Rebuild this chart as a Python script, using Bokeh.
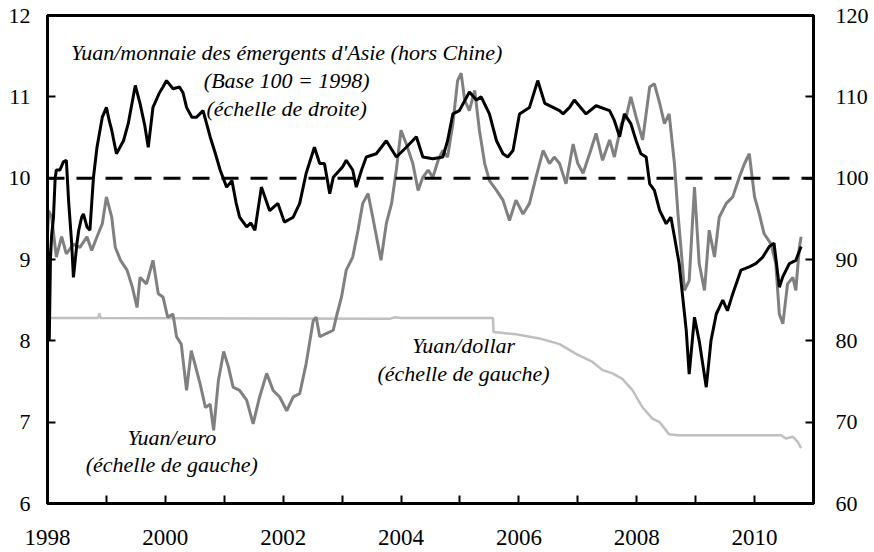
from bokeh.plotting import figure
from bokeh.models import Range1d, LinearAxis, FixedTicker, Span, Label
from bokeh.embed import file_html
from bokeh.resources import INLINE

# ---- Data (decimal years) ----
asia_t = [1998.00, 1998.02, 1998.03, 1998.05, 1998.07, 1998.10, 1998.13, 1998.15, 1998.21, 1998.27,
          1998.32, 1998.36, 1998.41, 1998.44, 1998.50, 1998.53, 1998.58, 1998.61, 1998.67, 1998.72,
          1998.78, 1998.84, 1998.93, 1999.00, 1999.05, 1999.09, 1999.17, 1999.29, 1999.37, 1999.49,
          1999.57, 1999.65, 1999.71, 1999.79, 1999.90, 1999.96, 2000.02, 2000.13, 2000.24, 2000.30,
          2000.36, 2000.45, 2000.53, 2000.64, 2000.76, 2000.85, 2000.93, 2001.04, 2001.13, 2001.20,
          2001.26, 2001.38, 2001.45, 2001.52, 2001.63, 2001.77, 2001.91, 2002.02, 2002.17, 2002.28,
          2002.39, 2002.53, 2002.62, 2002.70, 2002.79, 2002.85, 2003.01, 2003.07, 2003.18, 2003.24,
          2003.33, 2003.41, 2003.58, 2003.75, 2003.92, 2004.09, 2004.26, 2004.37, 2004.54, 2004.71,
          2004.79, 2004.88, 2004.99, 2005.16, 2005.28, 2005.36, 2005.50, 2005.62, 2005.73, 2005.81,
          2005.90, 2006.01, 2006.18, 2006.32, 2006.44, 2006.58, 2006.69, 2006.75, 2006.86, 2006.94,
          2007.14, 2007.31, 2007.54, 2007.62, 2007.71, 2007.79, 2007.90, 2007.99, 2008.07, 2008.16,
          2008.22, 2008.30, 2008.39, 2008.50, 2008.58, 2008.64, 2008.72, 2008.78, 2008.84, 2008.89,
          2008.98, 2009.06, 2009.18, 2009.26, 2009.35, 2009.46, 2009.54, 2009.63, 2009.77, 2009.91,
          2010.02, 2010.14, 2010.25, 2010.33, 2010.42, 2010.48, 2010.59, 2010.70, 2010.79]
asia_v = [92.0, 86.0, 80.0, 90.0, 93.0, 95.0, 100.0, 101.0, 101.0, 102.0,
          102.2, 97.0, 92.0, 87.8, 92.0, 93.6, 95.2, 95.6, 94.0, 93.6,
          100.1, 103.8, 107.5, 108.7, 107.0, 105.9, 103.0, 104.6, 106.7, 111.4,
          109.2, 106.5, 103.8, 108.7, 110.5, 111.2, 112.0, 111.0, 111.2, 110.5,
          108.7, 107.5, 107.5, 108.3, 105.1, 103.0, 101.0, 98.9, 99.7, 97.0,
          95.2, 94.0, 94.5, 93.6, 98.9, 96.0, 96.9, 94.6, 95.2, 96.9,
          100.6, 103.8, 101.8, 101.8, 98.1, 100.1, 101.4, 102.2, 101.0, 98.9,
          101.0, 102.6, 103.0, 104.6, 102.6, 103.8, 105.1, 102.6, 102.4, 102.6,
          104.6, 107.9, 108.3, 110.6, 109.6, 110.0, 107.9, 104.6, 103.0, 102.6,
          103.4, 107.9, 108.7, 112.0, 109.2, 108.7, 108.3, 107.9, 108.7, 109.6,
          107.9, 108.9, 108.3, 107.1, 105.1, 107.9, 106.7, 104.6, 103.0, 102.6,
          99.3, 98.5, 96.0, 94.4, 95.2, 92.8, 89.5, 85.4, 81.3, 75.9,
          82.9, 80.0, 74.3, 80.0, 83.3, 85.0, 83.7, 85.8, 88.7, 89.1,
          89.5, 90.3, 91.6, 92.0, 86.6, 87.9, 89.5, 89.9, 91.6]

euro_t = [1998.00, 1998.02, 1998.07, 1998.15, 1998.24, 1998.32, 1998.44, 1998.55, 1998.67, 1998.75,
          1998.84, 1998.93, 1999.00, 1999.09, 1999.15, 1999.24, 1999.35, 1999.44, 1999.52, 1999.57,
          1999.68, 1999.79, 1999.88, 1999.96, 2000.04, 2000.13, 2000.19, 2000.27, 2000.36, 2000.44,
          2000.50, 2000.59, 2000.68, 2000.76, 2000.82, 2000.90, 2000.99, 2001.07, 2001.15, 2001.26,
          2001.38, 2001.49, 2001.60, 2001.72, 2001.83, 2001.94, 2002.06, 2002.17, 2002.28, 2002.39,
          2002.51, 2002.56, 2002.62, 2002.73, 2002.85, 2002.90, 2002.99, 2003.07, 2003.18, 2003.27,
          2003.35, 2003.44, 2003.52, 2003.66, 2003.75, 2003.84, 2003.92, 2004.00, 2004.09, 2004.20,
          2004.29, 2004.37, 2004.46, 2004.54, 2004.63, 2004.71, 2004.79, 2004.88, 2004.96, 2005.02,
          2005.08, 2005.16, 2005.25, 2005.33, 2005.42, 2005.50, 2005.62, 2005.73, 2005.84, 2005.95,
          2006.07, 2006.18, 2006.29, 2006.41, 2006.52, 2006.60, 2006.69, 2006.80, 2006.92, 2007.00,
          2007.09, 2007.20, 2007.31, 2007.42, 2007.54, 2007.62, 2007.74, 2007.82, 2007.90, 2007.99,
          2008.10, 2008.22, 2008.30, 2008.39, 2008.47, 2008.55, 2008.64, 2008.70, 2008.75, 2008.81,
          2008.89, 2008.98, 2009.06, 2009.15, 2009.23, 2009.32, 2009.40, 2009.52, 2009.63, 2009.74,
          2009.83, 2009.91, 2010.00, 2010.08, 2010.16, 2010.28, 2010.36, 2010.42, 2010.48, 2010.56,
          2010.65, 2010.70, 2010.76, 2010.79]
euro_v = [9.30, 9.60, 9.52, 9.03, 9.28, 9.07, 9.19, 9.15, 9.28, 9.11,
          9.28, 9.44, 9.77, 9.52, 9.15, 8.99, 8.87, 8.66, 8.41, 8.78,
          8.70, 8.99, 8.58, 8.54, 8.29, 8.33, 8.05, 7.96, 7.39, 7.88,
          7.72, 7.47, 7.18, 7.22, 6.90, 7.51, 7.87, 7.68, 7.43, 7.39,
          7.27, 6.98, 7.31, 7.60, 7.39, 7.31, 7.14, 7.31, 7.35, 7.72,
          8.25, 8.29, 8.05, 8.09, 8.13, 8.29, 8.54, 8.87, 9.03, 9.36,
          9.69, 9.81, 9.52, 8.99, 9.44, 9.69, 10.10, 10.59, 10.42, 10.18,
          9.85, 10.01, 10.10, 10.01, 10.22, 10.34, 10.26, 10.67, 11.20, 11.29,
          10.96, 10.83, 11.08, 10.59, 10.18, 9.97, 9.85, 9.73, 9.48, 9.73,
          9.56, 9.69, 10.01, 10.34, 10.18, 10.26, 10.18, 9.93, 10.42, 10.18,
          10.06, 10.30, 10.55, 10.22, 10.47, 10.26, 10.67, 10.75, 11.00, 10.75,
          10.47, 11.12, 11.16, 10.92, 10.67, 10.79, 10.18, 9.56, 9.15, 8.62,
          8.74, 9.89, 8.95, 8.62, 9.36, 9.03, 9.52, 9.69, 9.77, 10.01,
          10.18, 10.30, 9.77, 9.56, 9.32, 9.19, 8.95, 8.33, 8.21, 8.70,
          8.78, 8.62, 9.15, 9.28]

dollar_t = [1998.00, 1998.03, 1998.86, 1998.88, 1998.90, 2003.80, 2003.90, 2004.00, 2005.56, 2005.57,
            2005.95, 2006.35, 2006.69, 2006.97, 2007.25, 2007.42, 2007.59, 2007.76, 2007.93, 2008.10,
            2008.27, 2008.39, 2008.55, 2008.70, 2010.45, 2010.53, 2010.65, 2010.73, 2010.79]
dollar_v = [8.30, 8.28, 8.28, 8.34, 8.28, 8.27, 8.29, 8.28, 8.28, 8.11,
            8.08, 8.03, 7.96, 7.84, 7.74, 7.64, 7.60, 7.53, 7.39, 7.18,
            7.04, 7.00, 6.85, 6.84, 6.84, 6.80, 6.82, 6.76, 6.68]

base_level = 10
x_ticks = list(range(1998, 2011))
left_ticks = [6, 7, 8, 9, 10, 11, 12]
right_ticks = [60, 70, 80, 90, 100, 110, 120]

FONT = "Liberation Serif"

p = figure(width=874, height=552, output_backend="svg", toolbar_location=None,
           x_range=Range1d(1998, 2011), y_range=Range1d(6, 12),
           min_border_left=47, min_border_right=61, min_border_top=15, min_border_bottom=49,
           background_fill_color="white", border_fill_color="white")
p.extra_y_ranges = {"right": Range1d(60, 120)}
p.grid.visible = False
p.outline_line_color = "black"
p.outline_line_width = 3

p.line(dollar_t, dollar_v, line_color="#bfbfbf", line_width=2.5)
p.line(euro_t, euro_v, line_color="#808080", line_width=3)
p.add_layout(Span(location=base_level, dimension="width", line_color="black",
                  line_width=3, line_dash="17 12"))
p.line(asia_t, asia_v, line_color="black", line_width=3, y_range_name="right")

right_axis = LinearAxis(y_range_name="right")
p.add_layout(right_axis, "right")

for ax in [p.xaxis[0], p.yaxis[0], right_axis]:
    ax.axis_line_color = "black"
    ax.axis_line_width = 3
    ax.major_tick_line_color = "black"
    ax.major_tick_line_width = 2
    ax.major_tick_in = 8
    ax.major_tick_out = 0
    ax.minor_tick_line_color = None
    ax.major_label_text_font = FONT
    ax.major_label_text_font_size = "22px"
    ax.major_label_text_color = "black"

p.xaxis[0].ticker = FixedTicker(ticks=x_ticks)
p.xaxis[0].major_label_overrides = {y: (str(y) if y % 2 == 0 else "") for y in x_ticks}
p.xaxis[0].major_label_text_font_size = "23px"
p.xaxis[0].major_label_standoff = 26
p.yaxis[0].ticker = FixedTicker(ticks=left_ticks)
p.yaxis[0].major_label_standoff = 17
right_axis.ticker = FixedTicker(ticks=right_ticks)
right_axis.major_label_standoff = 22

annotations = [
    (2002.06, 11.55, "Yuan/monnaie des émergents d'Asie (hors Chine)"),
    (2002.06, 11.20, "(Base 100 = 1998)"),
    (2002.06, 10.86, "(échelle de droite)"),
    (2005.06, 7.94, "Yuan/dollar"),
    (2005.06, 7.60, "(échelle de gauche)"),
    (2000.11, 6.81, "Yuan/euro"),
    (2000.11, 6.48, "(échelle de gauche)"),
]
for x, y, t in annotations:
    p.add_layout(Label(x=x, y=y, text=t, text_align="center", text_baseline="middle",
                       text_font=FONT, text_font_style="italic", text_font_size="22px",
                       text_color="black"))

open("out.html", "w").write(file_html(p, INLINE))
